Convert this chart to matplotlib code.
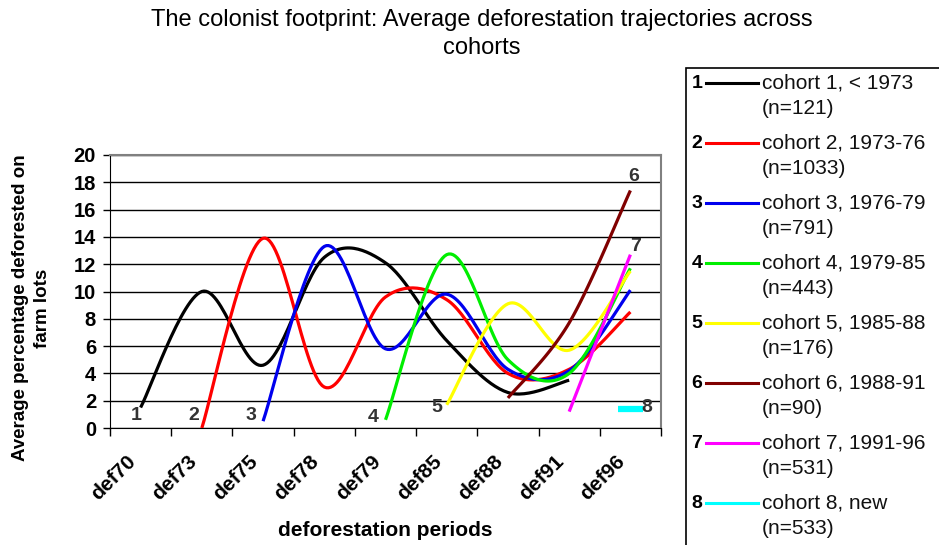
import numpy as np
import matplotlib
matplotlib.use('Agg')
import matplotlib.pyplot as plt
from matplotlib.patches import Rectangle
from matplotlib.lines import Line2D
from matplotlib.transforms import ScaledTranslation

plt.rcParams['font.family'] = ['Liberation Sans', 'DejaVu Sans']

nan = np.nan
periods = ['def70', 'def73', 'def75', 'def78', 'def79', 'def85', 'def88', 'def91', 'def96']
cohort1 = [1.5, 10.0, 4.6, 12.5, 12.1, 6.4, 2.6, 3.5, nan]
cohort2 = [nan, 0.0, 13.9, 3.0, 9.6, 9.4, 4.0, 4.3, 8.5]
cohort3 = [nan, nan, 0.5, 13.3, 5.8, 9.8, 4.3, 4.2, 10.1]
cohort4 = [nan, nan, nan, nan, 0.6, 12.7, 5.0, 4.0, 11.7]
cohort5 = [nan, nan, nan, nan, nan, 1.7, 9.1, 5.7, 11.5]
cohort6 = [nan, nan, nan, nan, nan, nan, 2.2, 7.7, 17.4]
cohort7 = [nan, nan, nan, nan, nan, nan, nan, 1.2, 12.7]
cohort8 = [nan, nan, nan, nan, nan, nan, nan, nan, 1.4]

series = [cohort1, cohort2, cohort3, cohort4, cohort5, cohort6, cohort7, cohort8]
colors = ['#000000', '#FF0000', '#0000EE', '#00EE00', '#FFFF00', '#800000', '#FF00FF', '#00FFFF']
legend_labels = ['cohort 1, < 1973', 'cohort 2, 1973-76', 'cohort 3, 1976-79', 'cohort 4, 1979-85',
                 'cohort 5, 1985-88', 'cohort 6, 1988-91', 'cohort 7, 1991-96', 'cohort 8, new']
legend_n = ['(n=121)', '(n=1033)', '(n=791)', '(n=443)', '(n=176)', '(n=90)', '(n=531)', '(n=533)']
# curve number labels: (category position, value position)
label_pos = [(-0.08, 0.95), (0.86, 0.95), (1.80, 0.95), (3.80, 0.75), (4.84, 1.5),
             (8.05, 18.4), (8.09, 13.3), (8.27, 1.5)]


def smooth(xs, ys, n=30):
    # Excel-style smoothed line (Bezier with 1/6 control points)
    xs = np.asarray(xs, float)
    ys = np.asarray(ys, float)
    if len(xs) < 2:
        return xs, ys
    px = np.concatenate([[xs[0]], xs, [xs[-1]]])
    py = np.concatenate([[ys[0]], ys, [ys[-1]]])
    ox, oy = [], []
    for i in range(1, len(px) - 2):
        p0 = np.array([px[i - 1], py[i - 1]])
        p1 = np.array([px[i], py[i]])
        p2 = np.array([px[i + 1], py[i + 1]])
        p3 = np.array([px[i + 2], py[i + 2]])
        c1 = p1 + (p2 - p0) / 6.0
        c2 = p2 - (p3 - p1) / 6.0
        t = np.linspace(0, 1, n)[:, None]
        b = ((1 - t) ** 3) * p1 + 3 * ((1 - t) ** 2) * t * c1 + 3 * (1 - t) * t ** 2 * c2 + t ** 3 * p2
        ox.extend(b[:, 0])
        oy.extend(b[:, 1])
    return np.array(ox), np.array(oy)


fig = plt.figure(figsize=(9.39, 5.45), dpi=100)
ax = fig.add_axes([110 / 939, 1 - 428 / 545, 551 / 939, 273 / 545])

x_all = np.arange(len(periods))
for k, (s, c) in enumerate(zip(series, colors)):
    arr = np.array(s, float)
    mask = ~np.isnan(arr)
    xs, ys = x_all[mask], arr[mask]
    if len(xs) == 1:
        ax.plot(xs, ys, linestyle='none', marker='_', markersize=18, markeredgewidth=4.5,
                color=c, zorder=3, clip_on=False)
    else:
        sx, sy = smooth(xs, ys)
        ax.plot(sx, sy, color=c, lw=2.3, zorder=3, solid_capstyle='butt')
    lx, ly = label_pos[k]
    ax.text(lx, ly, str(k + 1), fontsize=14, fontweight='bold',
            color='#333333', ha='center', va='center', zorder=4)

ax.set_xlim(-0.5, len(periods) - 0.5)
ax.set_ylim(0, 20)
ax.set_yticks(np.arange(0, 21, 2))
ax.yaxis.grid(True, color='#000000', lw=1.0)
ax.set_axisbelow(True)
ax.tick_params(axis='y', length=5, width=1, direction='out', labelsize=14.5, pad=5)
for lab in ax.get_yticklabels():
    lab.set_fontweight('bold')

ax.set_xticks(x_all)
ax.set_xticklabels(periods, rotation=45, ha='right', va='center', rotation_mode='anchor',
                   fontsize=15, fontweight='bold')
ax.set_xticks(np.arange(-0.5, len(periods), 1.0), minor=True)
ax.tick_params(axis='x', which='major', length=0, pad=0)
ax.tick_params(axis='x', which='minor', length=6, width=1, direction='out')
for lab in ax.get_xticklabels():
    lab.set_transform(lab.get_transform() + ScaledTranslation(-0.08, -0.30, fig.dpi_scale_trans))

for side in ['top', 'right']:
    ax.spines[side].set_color('#808080')
    ax.spines[side].set_linewidth(1.5)
ax.spines['left'].set_color('#000000')
ax.spines['bottom'].set_color('#000000')

ax.set_xlabel('deforestation periods', fontsize=15, fontweight='bold', va='center')
ax.xaxis.set_label_coords(0.5, (428 - 530) / 273)
ax.set_ylabel('Average percentage deforested on\nfarm lots', fontsize=13.5, fontweight='bold',
              linespacing=1.4, va='center')
ax.yaxis.set_label_coords((31.5 - 110) / 551, (428 - 308) / 273)

fig.text(482 / 939, 1 - 20 / 545, 'The colonist footprint: Average deforestation trajectories across',
         ha='center', va='center', fontsize=17)
fig.text(482 / 939, 1 - 48 / 545, 'cohorts', ha='center', va='center', fontsize=17)

# legend box
x0 = 686 / 939
y_top = 1 - 68 / 545
fig.patches.append(Rectangle((x0, -0.05), 1.1 - x0, y_top + 0.05, transform=fig.transFigure,
                             fill=False, edgecolor='#000000', lw=1.2))
for i in range(len(series)):
    yp = 83 + i * 60
    yf = 1 - yp / 545
    yf2 = 1 - (yp + 25) / 545
    fig.text(697 / 939, yf, str(i + 1), ha='center', va='center', fontsize=14, fontweight='bold')
    fig.lines.append(Line2D([706 / 939, 758 / 939], [yf, yf], transform=fig.transFigure,
                            color=colors[i], lw=2.2))
    fig.text(762 / 939, yf, legend_labels[i], ha='left', va='center', fontsize=15, color='#111111')
    fig.text(762 / 939, yf2, legend_n[i], ha='left', va='center', fontsize=15, color='#111111')

fig.savefig('out.png', dpi=100)
